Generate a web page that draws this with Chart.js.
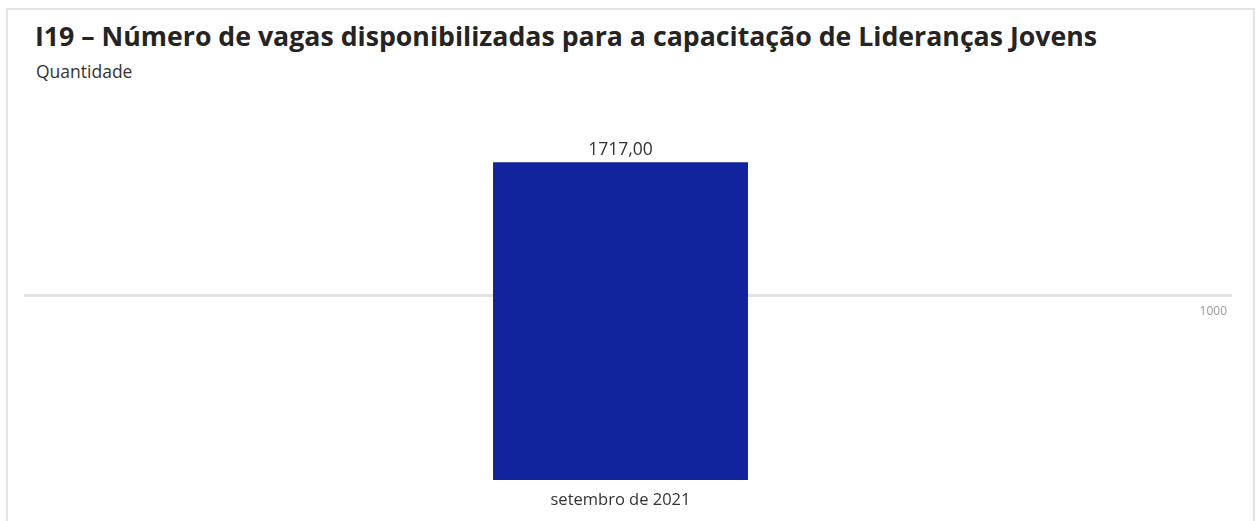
<!DOCTYPE html>
<html>
<head>
<meta charset="utf-8">
<script src="https://cdn.jsdelivr.net/npm/chart.js@4.4.0/dist/chart.umd.min.js"></script>
<style>
  html, body { margin: 0; padding: 0; background: #fff; }
  body { width: 1260px; height: 521px; position: relative; overflow: hidden; font-family: "Open Sans", "Noto Sans", sans-serif; }
  #frame { position: absolute; left: 6px; top: 8px; width: 1249px; height: 540px; border: 2px solid #e4e4e4; box-sizing: border-box; }
  #title { position: absolute; left: 35px; top: 17px; font-size: 26.7px; font-weight: 700; color: #252423; white-space: nowrap; }
  #subtitle { position: absolute; left: 36px; top: 59px; font-size: 17.5px; color: #333; }
  #wrap { position: absolute; left: 0; top: 0; width: 1260px; height: 521px; }
</style>
</head>
<body>
<div id="frame"></div>
<div id="title">I19 – Número de vagas disponibilizadas para a capacitação de Lideranças Jovens</div>
<div id="subtitle">Quantidade</div>
<div id="wrap"><canvas id="chart"></canvas></div>
<script>
const categories = ["setembro de 2021"];
const vagas = [1717];
const yTicks = [1000];

// value label above the bar
const valueLabels = {
  id: "valueLabels",
  afterDatasetsDraw(chart) {
    const ctx = chart.ctx;
    const meta = chart.getDatasetMeta(0);
    ctx.save();
    ctx.font = "17.5px 'Open Sans', sans-serif";
    ctx.fillStyle = "#333";
    ctx.textAlign = "center";
    ctx.textBaseline = "bottom";
    meta.data.forEach((bar, i) => {
      const v = vagas[i].toFixed(2).replace(".", ",");
      ctx.fillText(v, bar.x, bar.y - 4);
    });
    ctx.restore();
  }
};

new Chart(document.getElementById("chart"), {
  type: "bar",
  data: {
    labels: categories,
    datasets: [{
      data: vagas,
      backgroundColor: "#12239E",
      categoryPercentage: 1,
      barPercentage: 0.2137
    }]
  },
  options: {
    responsive: true,
    maintainAspectRatio: false,
    animation: false,
    layout: { padding: { left: 24, right: 28, top: 110, bottom: 0 } },
    plugins: { legend: { display: false }, tooltip: { enabled: false } },
    scales: {
      x: {
        grid: { display: false },
        border: { display: false },
        ticks: { color: "#333", font: { size: 16.5, family: "'Open Sans', sans-serif" }, padding: 2 },
        afterFit(scale) { scale.height = 41; }
      },
      y: {
        position: "right",
        min: 0,
        max: 2000,
        afterBuildTicks(scale) { scale.ticks = yTicks.map(v => ({ value: v })); },
        afterFit(scale) { scale.width = 15; },
        grid: { color: "#e3e3e3", lineWidth: 3, drawTicks: true, tickLength: 15 },
        border: { display: false },
        ticks: {
          mirror: true, padding: 10, labelOffset: 17, color: "#999",
          font: { size: 12, family: "'Open Sans', sans-serif" },
          callback: v => String(v)
        }
      }
    }
  },
  plugins: [valueLabels]
});
</script>
</body>
</html>
